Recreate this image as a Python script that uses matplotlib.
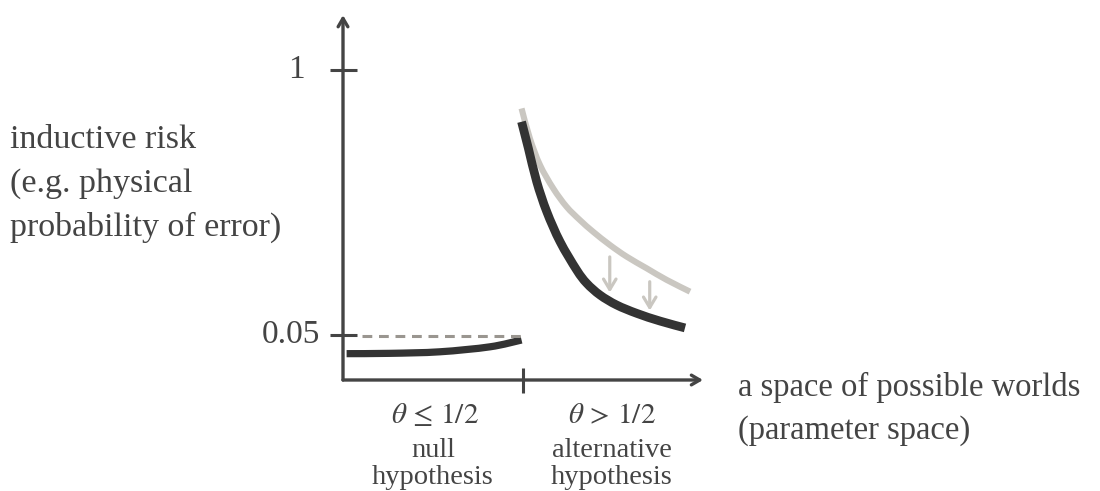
import matplotlib
matplotlib.use("Agg")
import matplotlib.pyplot as plt
from matplotlib.path import Path
from matplotlib.patches import PathPatch

# ── data (schematic units: x = parameter space 0..1, y = risk height 0..1) ──

NULL_X = [0.010, 0.131, 0.269, 0.408, 0.496]
NULL_Y = [0.085, 0.086, 0.091, 0.107, 0.129]

ALT_X = [0.496, 0.515, 0.538, 0.566, 0.603, 0.649, 0.677, 0.714, 0.760, 0.816, 0.881, 0.950]
ALT_Y = [0.833, 0.747, 0.640, 0.543, 0.446, 0.355, 0.312, 0.274, 0.242, 0.215, 0.190, 0.168]

OLD_X = [0.496, 0.519, 0.547, 0.584, 0.621, 0.658, 0.695, 0.742, 0.788, 0.844, 0.899, 0.964]
OLD_Y = [0.876, 0.780, 0.694, 0.618, 0.559, 0.516, 0.478, 0.435, 0.398, 0.360, 0.323, 0.285]

ARROW_X = [0.741, 0.852]
ARROW_Y0 = [0.397, 0.317]
ARROW_Y1 = [0.282, 0.224]

TICK_Y = [1.0, 0.145]
TICK_LABELS = ["1", "0.05"]
BOUNDARY = 0.5

# ── style ────────────────────────────────────────────────────────────────────

AXIS_C = "#444444"
TEXT_C = "#444444"
DARK = "#333333"
LIGHT = "#cac7c1"
DASH_C = "#9a9690"
FONT = "Liberation Serif"

plt.rcParams["font.family"] = FONT
plt.rcParams["mathtext.fontset"] = "stix"


def smooth_path(xs, ys):
    # Catmull-Rom through the read points, drawn as cubic Bezier segments
    pts = list(zip(xs, ys))
    verts = [pts[0]]
    codes = [Path.MOVETO]
    for i in range(len(pts) - 1):
        p0 = pts[i - 1] if i > 0 else pts[i]
        p1, p2 = pts[i], pts[i + 1]
        p3 = pts[i + 2] if i + 2 < len(pts) else pts[i + 1]
        c1 = (p1[0] + (p2[0] - p0[0]) / 6, p1[1] + (p2[1] - p0[1]) / 6)
        c2 = (p2[0] - (p3[0] - p1[0]) / 6, p2[1] - (p3[1] - p1[1]) / 6)
        verts += [c1, c2, p2]
        codes += [Path.CURVE4] * 3
    return Path(verts, codes)


def draw_curve(ax, xs, ys, color, lw):
    ax.add_patch(PathPatch(smooth_path(xs, ys), facecolor="none",
                           edgecolor=color, lw=lw, capstyle="butt",
                           joinstyle="round", clip_on=False))


fig = plt.figure(figsize=(11, 4.91), dpi=100)
ax = fig.add_axes([343 / 1100, 111 / 491, 360 / 1100, 310 / 491])
ax.set_xlim(0, 1)
ax.set_ylim(0, 1)
ax.axis("off")

# axes with arrows
arrow_kw = dict(arrowstyle="->,head_length=0.6,head_width=0.35",
                color=AXIS_C, lw=2.4, shrinkA=0, shrinkB=0)
ax.annotate("", xy=(0, 1.177), xytext=(0, 0), xycoords="data",
            arrowprops=arrow_kw, annotation_clip=False)
ax.annotate("", xy=(1.0, 0), xytext=(0, 0), xycoords="data",
            arrowprops=arrow_kw, annotation_clip=False)

# y ticks
for ty in TICK_Y:
    ax.plot([-0.036, 0.039], [ty, ty], color=AXIS_C, lw=2.2,
            clip_on=False, solid_capstyle="butt")
ax.text(-0.128, TICK_Y[0], TICK_LABELS[0], ha="center", va="center",
        fontsize=24, color=TEXT_C)
ax.text(-0.063, TICK_Y[1], TICK_LABELS[1], ha="right", va="center",
        fontsize=24, color=TEXT_C)

# boundary tick on x axis
ax.plot([BOUNDARY, BOUNDARY], [0.039, -0.042], color=AXIS_C, lw=2.2,
        clip_on=False, solid_capstyle="butt")

# dashed 0.05 level over the null region
ax.plot([0.053, BOUNDARY], [TICK_Y[1] - 0.003] * 2, color=DASH_C, lw=2.2,
        dashes=(3.2, 2.2), clip_on=False)

# curves
draw_curve(ax, OLD_X, OLD_Y, LIGHT, 4.4)
draw_curve(ax, NULL_X, NULL_Y, DARK, 5.2)
draw_curve(ax, ALT_X, ALT_Y, DARK, 6.3)

# downward arrows (old -> new risk)
for xa, y0, y1 in zip(ARROW_X, ARROW_Y0, ARROW_Y1):
    ax.annotate("", xy=(xa, y1), xytext=(xa, y0),
                arrowprops=dict(arrowstyle="->,head_length=0.75,head_width=0.45",
                                color=LIGHT, lw=2.3, shrinkA=0, shrinkB=0))

# ── texts ────────────────────────────────────────────────────────────────────

fig.text(10 / 1100, 1 - 184 / 491,
         "inductive risk\n(e.g. physical\nprobability of error)",
         ha="left", va="center", fontsize=24.5, color=TEXT_C, linespacing=1.55)

fig.text(738 / 1100, 1 - 409 / 491,
         "a space of possible worlds\n(parameter space)",
         ha="left", va="center", fontsize=23.5, color=TEXT_C, linespacing=1.5)

fig.text(435 / 1100, 1 - 416 / 491, r"$\theta \,\leq\, 1/2$", ha="center",
         va="center", fontsize=21, color=TEXT_C)
fig.text(612 / 1100, 1 - 416 / 491, r"$\theta \,>\, 1/2$", ha="center",
         va="center", fontsize=21, color=TEXT_C)
fig.text(433 / 1100, 1 - 464 / 491, "null\nhypothesis", ha="center",
         va="center", fontsize=20.5, color=TEXT_C, linespacing=1.15)
fig.text(612 / 1100, 1 - 464 / 491, "alternative\nhypothesis", ha="center",
         va="center", fontsize=20.5, color=TEXT_C, linespacing=1.15)

fig.savefig("out.png", dpi=100, facecolor="white")
